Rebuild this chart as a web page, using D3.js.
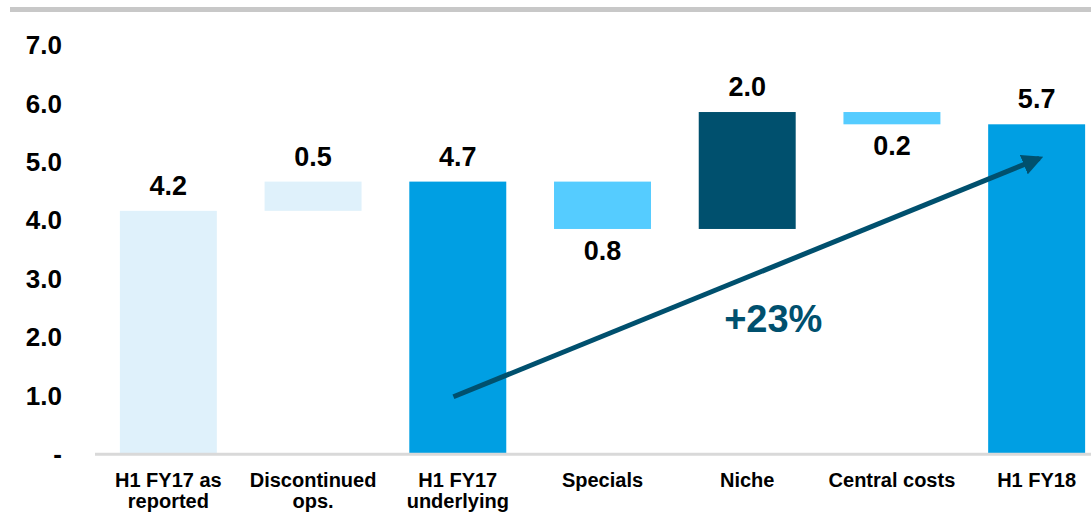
<!DOCTYPE html>
<html>
<head>
<meta charset="utf-8">
<script src="https://cdn.jsdelivr.net/npm/d3@7"></script>
<style>
  html, body { margin: 0; padding: 0; background: #fff; }
  svg { display: block; font-family: "Liberation Sans", Arial, sans-serif; }
</style>
</head>
<body>
<svg id="chart" width="1091" height="513"></svg>
<script>
// ---- data ----
const categories = [
  ["H1 FY17 as", "reported"],
  ["Discontinued", "ops."],
  ["H1 FY17", "underlying"],
  ["Specials"],
  ["Niche"],
  ["Central costs"],
  ["H1 FY18"]
];
// waterfall bar bottoms and tops (value units)
const barStart = [0, 4.15, 0, 4.65, 3.84, 5.84, 0];
const barEnd   = [4.15, 4.65, 4.65, 3.84, 5.84, 5.63, 5.63];
const valueLabels = ["4.2", "0.5", "4.7", "0.8", "2.0", "0.2", "5.7"];
const labelBelow = [false, false, false, true, false, true, false];
const barColors = ["#DFF1FB", "#DFF1FB", "#009FE3", "#55CCFF", "#00506E", "#55CCFF", "#009FE3"];
const yTicks = [0, 1, 2, 3, 4, 5, 6, 7];
const yTickLabels = ["-", "1.0", "2.0", "3.0", "4.0", "5.0", "6.0", "7.0"];
// growth arrow: from category index 2 at value 0.97 to category index 6 at 5.1
const arrowFrom = {cat: 2, v: 0.97, dx: -0.03};
const arrowTo = {cat: 6, v: 5.1, dx: 0.07};
const growthLabel = "+23%";

// ---- scales ----
const svg = d3.select("#chart");
const x = d3.scaleBand()
  .domain(d3.range(categories.length))
  .range([96, 1109])
  .paddingInner(0.33)
  .paddingOuter(0.165);
const y = d3.scaleLinear().domain([0, 7]).range([453.5, 44.2]);
const cx = i => x(i) + x.bandwidth() / 2;

// top rule
svg.append("line")
  .attr("x1", 10).attr("x2", 1091)
  .attr("y1", 9.5).attr("y2", 9.5)
  .attr("stroke", "#C8C8C8").attr("stroke-width", 5);

// y axis labels
const yAxis = d3.axisLeft(y).tickValues(yTicks)
  .tickFormat((d, i) => yTickLabels[i]).tickSize(0).tickPadding(0);
const gy = svg.append("g").attr("transform", "translate(62,0)").call(yAxis);
gy.select(".domain").remove();
gy.selectAll("text")
  .attr("font-family", "Liberation Sans, Arial, sans-serif")
  .attr("font-size", 26).attr("font-weight", "bold").attr("fill", "#000")
  .attr("dy", "0.36em");

// bars
svg.append("g").selectAll("rect")
  .data(categories)
  .join("rect")
  .attr("x", (d, i) => x(i))
  .attr("width", x.bandwidth())
  .attr("y", (d, i) => y(Math.max(barStart[i], barEnd[i])))
  .attr("height", (d, i) => Math.abs(y(barStart[i]) - y(barEnd[i])))
  .attr("fill", (d, i) => barColors[i]);

// baseline
svg.append("line")
  .attr("x1", 95).attr("x2", 1091)
  .attr("y1", y(0) + 0.8).attr("y2", y(0) + 0.8)
  .attr("stroke", "#D9D9D9").attr("stroke-width", 3);

// value labels
svg.append("g").selectAll("text")
  .data(valueLabels)
  .join("text")
  .attr("x", (d, i) => cx(i))
  .attr("y", (d, i) => labelBelow[i]
      ? y(Math.min(barStart[i], barEnd[i])) + 31
      : y(Math.max(barStart[i], barEnd[i])) - 16)
  .attr("text-anchor", "middle")
  .attr("font-size", 27).attr("font-weight", "bold").attr("fill", "#000")
  .text(d => d);

// category labels
const xAxis = d3.axisBottom(x).tickSize(0).tickFormat("");
const gx = svg.append("g").attr("transform", `translate(0,${y(0)})`).call(xAxis);
gx.select(".domain").remove();
gx.selectAll(".tick").each(function(d) {
  const t = d3.select(this).append("text")
    .attr("text-anchor", "middle")
    .attr("font-family", "Liberation Sans, Arial, sans-serif")
    .attr("font-size", 20).attr("font-weight", "bold").attr("fill", "#000");
  categories[d].forEach((line, j) => {
    t.append("tspan").attr("x", 0).attr("y", 33 + j * 21).text(line);
  });
});

// growth arrow
const defs = svg.append("defs");
defs.append("marker")
  .attr("id", "arrowhead")
  .attr("viewBox", "0 0 10 10")
  .attr("refX", 8).attr("refY", 5)
  .attr("markerWidth", 4.2).attr("markerHeight", 4.2)
  .attr("markerUnits", "strokeWidth")
  .attr("orient", "auto")
  .append("path").attr("d", "M0,0 L10,5 L0,10 z").attr("fill", "#00506E");

const ax1 = cx(arrowFrom.cat) + arrowFrom.dx * x.step();
const ay1 = y(arrowFrom.v);
const ax2 = cx(arrowTo.cat) + arrowTo.dx * x.step();
const ay2 = y(arrowTo.v);
svg.append("line")
  .attr("x1", ax1).attr("y1", ay1)
  .attr("x2", ax2 - 8 * Math.cos(Math.atan2(ay2 - ay1, ax2 - ax1)))
  .attr("y2", ay2 - 8 * Math.sin(Math.atan2(ay2 - ay1, ax2 - ax1)))
  .attr("stroke", "#00506E").attr("stroke-width", 5)
  .attr("marker-end", "url(#arrowhead)");

svg.append("text")
  .attr("x", cx(4) + 0.18 * x.step())
  .attr("y", y(2.07))
  .attr("text-anchor", "middle")
  .attr("font-size", 38).attr("font-weight", "bold").attr("fill", "#00506E")
  .text(growthLabel);
</script>
</body>
</html>
